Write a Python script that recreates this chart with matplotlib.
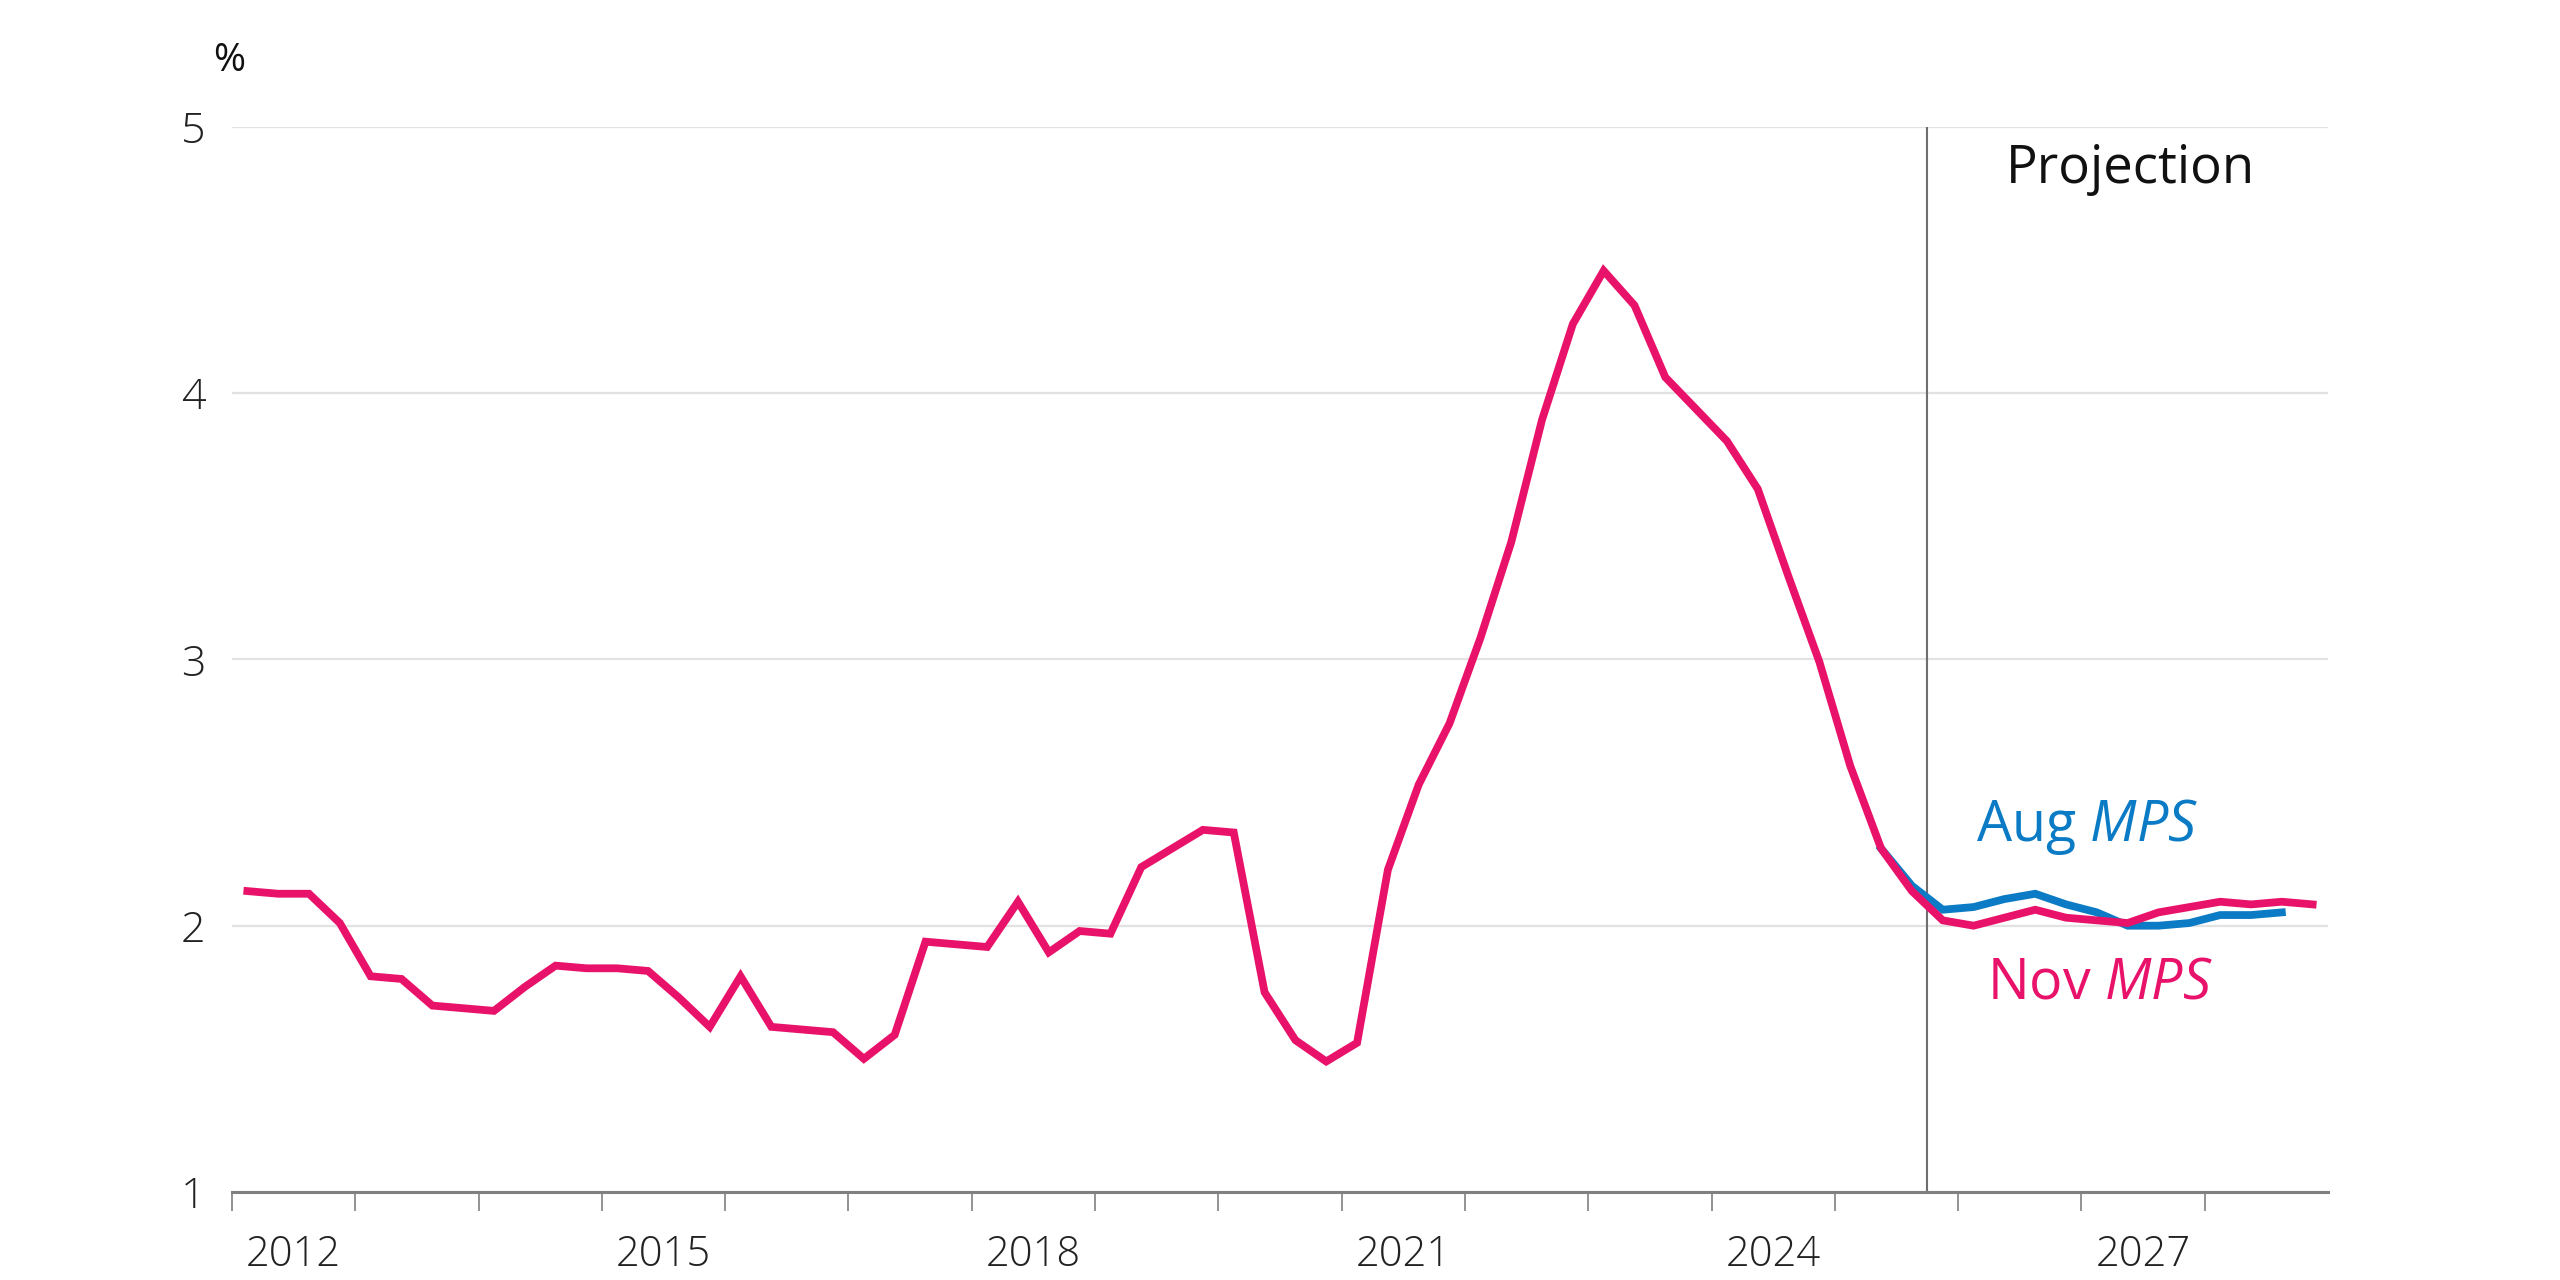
import matplotlib
matplotlib.use("Agg")
import matplotlib.pyplot as plt

# quarterly series, 2012 Q1 onwards
start_year = 2012
nov_mps = [2.13, 2.12, 2.12, 2.01,
           1.81, 1.80, 1.70, 1.69,
           1.68, 1.77, 1.85, 1.84,
           1.84, 1.83, 1.73, 1.62,
           1.81, 1.62, 1.61, 1.60,
           1.50, 1.59, 1.94, 1.93,
           1.92, 2.09, 1.90, 1.98,
           1.97, 2.22, 2.29, 2.36,
           2.35, 1.75, 1.57, 1.49,
           1.56, 2.21, 2.53, 2.76,
           3.08, 3.44, 3.90, 4.26,
           4.46, 4.33, 4.06, 3.94,
           3.82, 3.64, 3.31, 2.99,
           2.60, 2.29, 2.13, 2.02,
           2.00, 2.03, 2.06, 2.03,
           2.02, 2.01, 2.05, 2.07,
           2.09, 2.08, 2.09, 2.08]
# Aug MPS starts 2025 Q2
aug_start = (2025, 2)
aug_mps = [2.29, 2.15, 2.06, 2.07, 2.10, 2.12, 2.08, 2.05,
           2.00, 2.00, 2.01, 2.04, 2.04, 2.05]

projection_start = 2025.75
year_ticks = list(range(2012, 2029))
year_labels = ['2012', '2015', '2018', '2021', '2024', '2027']
y_ticks = [1, 2, 3, 4, 5]

pink = '#E9126A'
blue = '#0A7BC4'

plt.rcParams['font.family'] = ['Open Sans', 'DejaVu Sans']
plt.rcParams['mathtext.fontset'] = 'custom'
plt.rcParams['mathtext.rm'] = 'Open Sans'
plt.rcParams['mathtext.it'] = 'Open Sans:italic'


def quarter_x(year, q):
    return year + (q - 0.5) / 4


x_nov = [quarter_x(start_year + i // 4, i % 4 + 1) for i in range(len(nov_mps))]
k0 = (aug_start[0] - start_year) * 4 + aug_start[1] - 1
x_aug = x_nov[k0:k0 + len(aug_mps)]

fig = plt.figure(figsize=(25.6, 12.8), dpi=100)
ax = fig.add_axes([0.0906, 0.0688, 0.8188, 0.832])

ax.set_xlim(2012, 2029)
ax.set_ylim(1, 5)

ax.set_yticks(y_ticks)
ax.yaxis.grid(True, color='#e2e2e2', lw=1.6)
ax.set_axisbelow(True)

ax.axvline(projection_start, color='#6e6e6e', lw=1.5, zorder=2)

ax.plot(x_aug, aug_mps, color=blue, lw=5.6, solid_joinstyle='miter', zorder=3)
ax.plot(x_nov, nov_mps, color=pink, lw=5.6, solid_joinstyle='miter', zorder=4)

for s in ['top', 'right', 'left']:
    ax.spines[s].set_visible(False)
ax.spines['bottom'].set_color('#808080')
ax.spines['bottom'].set_linewidth(2.2)

ax.set_xticks(year_ticks)
ax.set_xticklabels([])
ax.tick_params(axis='x', which='major', length=14, width=1.2, color='#808080')
ax.set_xticks([int(y) + 0.5 for y in year_labels], minor=True)
ax.set_xticklabels(year_labels, minor=True)
ax.tick_params(axis='x', which='minor', length=0, pad=30, labelsize=30,
               labelcolor='#222222')
for lab in ax.get_xticklabels(minor=True):
    lab.set_fontweight('light')

ax.tick_params(axis='y', length=0, pad=19, labelsize=31, labelcolor='#222222')
for lab in ax.get_yticklabels():
    lab.set_fontweight('light')

fig.text(0.0895, 0.952, '%', fontsize=28, ha='center', va='center', color='#111111')

ax.text(2027.4, 4.84, 'Projection', fontsize=38, ha='center', va='center', color='#111111')
ax.text(2027.05, 2.37, r'Aug $MPS$', fontsize=40, ha='center', va='center', color=blue)
ax.text(2027.15, 1.78, r'Nov $MPS$', fontsize=40, ha='center', va='center', color=pink)

fig.savefig('out.png', dpi=100)
